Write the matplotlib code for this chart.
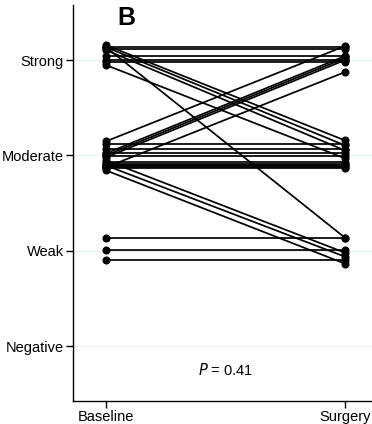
import matplotlib
matplotlib.use("Agg")
import matplotlib.pyplot as plt

# Categories
levels = ["Negative", "Weak", "Moderate", "Strong"]
level_values = [1, 2, 3, 4]
timepoints = ["Baseline", "Surgery"]

# Per-subject jittered scores (baseline, surgery)
baseline = [
    # strong -> strong
    4.136, 4.115, 4.042, 4.000, 3.979,
    # strong -> moderate
    4.157, 4.136, 4.105, 3.948,
    # strong -> weak
    4.136,
    # moderate -> strong
    3.147, 3.021, 3.000, 2.979, 2.874,
    # moderate -> moderate
    3.115, 3.063, 3.021, 2.990, 2.927, 2.906, 2.895, 2.885, 2.874, 2.864,
    # moderate -> weak
    2.948, 2.895, 2.843,
    # weak -> weak
    2.136, 2.010, 1.906,
]
surgery = [
    4.136, 4.115, 4.042, 4.000, 3.979,
    3.157, 3.105, 3.052, 2.969,
    2.136,
    4.147, 4.042, 4.021, 4.000, 3.874,
    3.115, 3.063, 3.021, 2.990, 2.927, 2.906, 2.895, 2.885, 2.874, 2.864,
    1.979, 1.937, 1.864,
    2.136, 2.010, 1.906,
]
p_text = "= 0.41"

plt.rcParams['font.family'] = ['Liberation Sans', 'DejaVu Sans']

fig = plt.figure(figsize=(3.72, 4.24), dpi=100)
ax = fig.add_axes([0.196, 0.054, 0.804, 0.934])

for b, s in zip(baseline, surgery):
    ax.plot([0, 1], [b, s], color="black", lw=1.25, marker="o",
            markersize=4.8, solid_capstyle="butt", zorder=3)

for v in level_values:
    ax.axhline(v, color="#e6eeee", lw=0.8, zorder=1)

ax.set_xlim(-0.138, 1.113)
ax.set_ylim(0.422, 4.577)
ax.set_xticks([0, 1])
ax.set_xticklabels(timepoints, fontsize=10.5)
ax.set_yticks(level_values)
ax.set_yticklabels(levels, fontsize=10.5)
ax.tick_params(axis="both", length=5, width=1, color="black", pad=1.5)
for side in ["top", "right"]:
    ax.spines[side].set_visible(False)
for side in ["left", "bottom"]:
    ax.spines[side].set_linewidth(1)

ax.text(0.5, 0.75, "$P$ " + p_text, ha="center", va="center", fontsize=10.5)
ax.text(0.05, 4.57, "B", ha="left", va="top", fontsize=18, fontweight="bold")

fig.savefig("out.png", dpi=100)
